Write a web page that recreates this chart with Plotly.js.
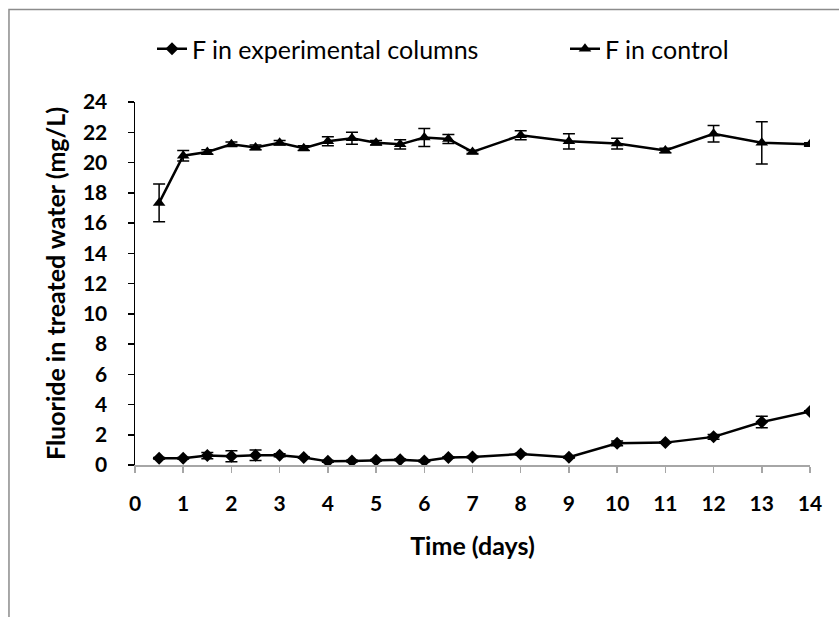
<!DOCTYPE html>
<html>
<head>
<meta charset="utf-8">
<script src="https://cdn.plot.ly/plotly-3.0.1.min.js"></script>
<style>html,body{margin:0;padding:0;background:#fff;}#chart{width:839px;height:617px;}</style>
</head>
<body>
<div id="chart"></div>
<script>
var days = [0.5, 1, 1.5, 2, 2.5, 3, 3.5, 4, 4.5, 5, 5.5, 6, 6.5, 7, 8, 9, 10, 11, 12, 13, 14];
var expValues = [0.45, 0.45, 0.62, 0.58, 0.64, 0.64, 0.5, 0.24, 0.26, 0.32, 0.35, 0.27, 0.5, 0.53, 0.72, 0.51, 1.43, 1.48, 1.86, 2.84, 3.54];
var expErrors = [0.05, 0.05, 0.2, 0.36, 0.35, 0.1, 0.05, 0.05, 0.05, 0.05, 0.05, 0.05, 0.05, 0.05, 0.05, 0.05, 0.15, 0.05, 0.15, 0.38, 0.05];
var ctrlValues = [17.33, 20.45, 20.7, 21.2, 21.0, 21.3, 20.95, 21.4, 21.6, 21.3, 21.2, 21.65, 21.55, 20.7, 21.8, 21.4, 21.25, 20.8, 21.9, 21.3, 21.2];
var ctrlErrors = [1.25, 0.35, 0.15, 0.15, 0.15, 0.15, 0.15, 0.3, 0.4, 0.15, 0.3, 0.6, 0.3, 0.1, 0.3, 0.5, 0.35, 0.15, 0.55, 1.4, 0.1];
var xTicks = [0, 1, 2, 3, 4, 5, 6, 7, 8, 9, 10, 11, 12, 13, 14];
var yTicks = [0, 2, 4, 6, 8, 10, 12, 14, 16, 18, 20, 22, 24];
var seriesNames = ["F in experimental columns", "F in control"];

var font = "Lato, Carlito, 'Open Sans', sans-serif";

var traces = [
  {
    x: days, y: expValues, name: seriesNames[0], type: "scatter", mode: "lines+markers",
    legend: "legend",
    line: {color: "#000", width: 2.5},
    marker: {symbol: "diamond", size: 10, color: "#000"},
    error_y: {type: "data", array: expErrors, visible: true, color: "#000", thickness: 1.5, width: 6}
  },
  {
    x: days, y: ctrlValues, name: seriesNames[1], type: "scatter", mode: "lines+markers",
    legend: "legend2",
    line: {color: "#000", width: 2.5},
    marker: {symbol: "triangle-up", size: 11, color: "#000"},
    error_y: {type: "data", array: ctrlErrors, visible: true, color: "#000", thickness: 1.5, width: 6}
  }
];

var legendFont = {family: font, size: 25, color: "#000"};

var layout = {
  width: 839, height: 617,
  margin: {l: 135, r: 29, t: 102, b: 152},
  paper_bgcolor: "#fff", plot_bgcolor: "#fff",
  font: {family: font, color: "#000", size: 21},
  showlegend: true,
  legend: {orientation: "h", x: 0.0252, xanchor: "left", y: 1.146, yanchor: "middle", font: legendFont, bgcolor: "rgba(0,0,0,0)"},
  legend2: {orientation: "h", x: 0.637, xanchor: "left", y: 1.146, yanchor: "middle", font: legendFont, bgcolor: "rgba(0,0,0,0)"},
  xaxis: {
    range: [0, 14], tickvals: xTicks, ticktext: xTicks.map(String),
    showgrid: false, zeroline: false, showline: true, linecolor: "#a6a6a6", linewidth: 1.5,
    ticks: "outside", ticklen: 6, tickcolor: "#a6a6a6", tickwidth: 1.5, ticklabelstandoff: 13,
    tickfont: {family: font, size: 21, color: "#000", weight: "bold"},
    title: {text: "<b>Time (days)</b>", font: {family: font, size: 25, color: "#000"}, standoff: 24}
  },
  yaxis: {
    range: [0, 24], tickvals: yTicks, ticktext: yTicks.map(String),
    showgrid: false, zeroline: false, showline: true, linecolor: "#000", linewidth: 1.5,
    ticks: "outside", ticklen: 6, tickcolor: "#000", tickwidth: 1.5, ticklabelstandoff: 16,
    tickfont: {family: font, size: 21, color: "#000", weight: "bold"},
    title: {text: "<b>Fluoride in treated water (mg/L)</b>", font: {family: font, size: 25, color: "#000"}, standoff: 10}
  },
  shapes: [
    {type: "path", xref: "paper", yref: "paper",
     path: "M -0.1867,-0.5 L -0.1867,1.2548 L 1.2,1.2548",
     line: {color: "#8c8c8c", width: 1.5}}
  ]
};

Plotly.newPlot("chart", traces, layout, {displayModeBar: false, staticPlot: true});
</script>
</body>
</html>
